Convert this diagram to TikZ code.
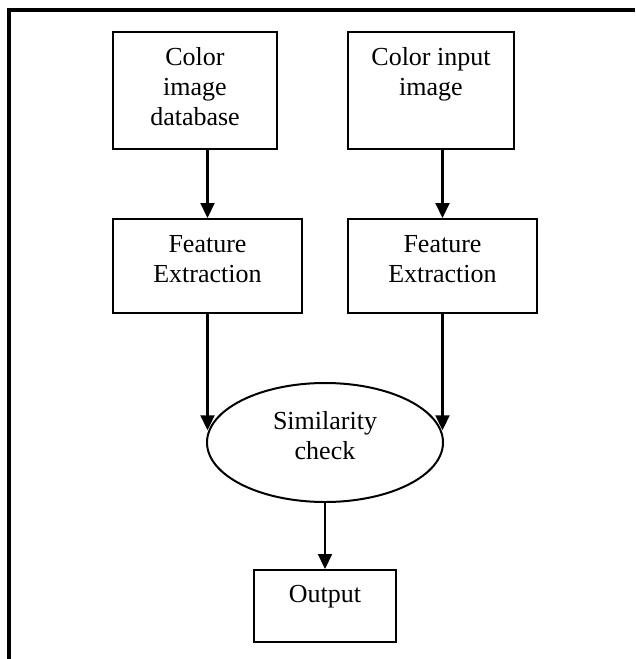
\documentclass[tikz,border=0pt]{standalone}
\usepackage{fontspec}
\setmainfont{Liberation Serif}
\usetikzlibrary{arrows.meta,shapes.geometric,calc}
\begin{document}
\begin{tikzpicture}[x=1pt,y=-1pt,
  boxnode/.style={draw,line width=2pt,rectangle,inner sep=0pt},
  ovalnode/.style={draw,line width=2pt,ellipse,inner sep=0pt},
  txt/.style={anchor=north,inner sep=0pt,align=center,font=\fontsize{26}{30}\selectfont},
  arr/.style={line width=2.2pt,-{Triangle[width=14pt,length=15pt]}},
  frameline/.style={line width=3.2pt}]
\useasboundingbox (0,0) rectangle (635,659);
% frame
\coordinate (fa) at (9,659);
\coordinate (fb) at (9,10);
\coordinate (fc) at (635,10);
\draw[frameline] (fa) -- (fb) -- (fc);
% boxes
\node[boxnode,minimum width=164pt,minimum height=117pt] (b1) at (195,90.5) {};
\node[boxnode,minimum width=166pt,minimum height=117pt] (b2) at (431,90.5) {};
\node[boxnode,minimum width=189pt,minimum height=94pt] (fe1) at (207.5,266) {};
\node[boxnode,minimum width=189pt,minimum height=94pt] (fe2) at (442.5,266) {};
\node[ovalnode,minimum width=236pt,minimum height=119pt] (sim) at (325,442.5) {};
\node[boxnode,minimum width=142pt,minimum height=72pt] (out) at (325,606) {};
% texts
\node[txt,yshift=-13pt] (t1) at (b1.north) {\strut Color\\image\\database};
\node[txt,yshift=-13pt] (t2) at (b2.north) {\strut Color input\\image};
\node[txt,yshift=-13pt] (t3) at (fe1.north) {\strut Feature\\Extraction};
\node[txt,yshift=-13pt] (t4) at (fe2.north) {\strut Feature\\Extraction};
\node[txt,yshift=-26pt] (t5) at (sim.north) {\strut Similarity\\check};
\node[txt,yshift=-12pt] (t6) at (out.north) {\strut Output};
% arrows
\draw[arr] (fe1.north |- b1.south) -- (fe1.north);
\draw[arr] (fe2.north |- b2.south) -- (fe2.north);
\draw[arr] (fe1.south) -- (fe1.south |- sim.174);
\draw[arr] (fe2.south) -- (fe2.south |- sim.6);
\draw[arr] (sim.south) -- (out.north);
\end{tikzpicture}
\end{document}
